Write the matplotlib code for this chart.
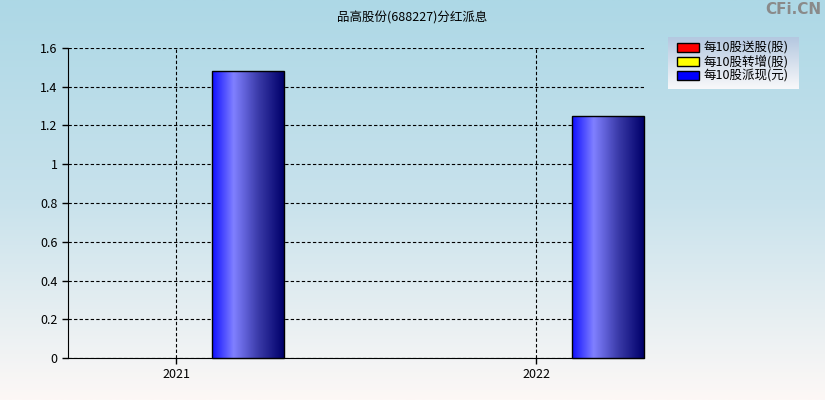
import numpy as np
import matplotlib.pyplot as plt
from matplotlib.colors import LinearSegmentedColormap
from matplotlib.patches import Rectangle

plt.rcParams['font.family'] = ['Noto Sans CJK SC', 'DejaVu Sans']

years = ['2021', '2022']
song_gu = [0, 0]
zhuan_zeng = [0, 0]
pai_xian = [1.48, 1.25]
series_names = ['每10股送股(股)', '每10股转增(股)', '每10股派现(元)']
series_colors = ['#ff0000', '#ffff00', '#0000ff']
title = '品高股份(688227)分红派息'

fig = plt.figure(figsize=(8.25, 4), dpi=100)

# background gradient over the whole figure
bg = fig.add_axes([0, 0, 1, 1], zorder=-10)
bg_cmap = LinearSegmentedColormap.from_list('bg', ['#add8e6', '#c8e2ec', '#fdf8f6'])
bg.imshow(np.linspace(0, 1, 256).reshape(-1, 1), cmap=bg_cmap, aspect='auto', extent=[0, 1, 0, 1])
bg.axis('off')

ax = fig.add_axes([68 / 825, 42 / 400, 576 / 825, 310 / 400])
ax.set_facecolor('none')

x = np.arange(len(years))
w = 0.2
bar_cmap = LinearSegmentedColormap.from_list(
    'bar', [(0, '#1010ff'), (0.3, '#8080ff'), (0.65, '#3a3aa8'), (1, '#00006a')])
grad = np.linspace(0, 1, 128).reshape(1, -1)

for i, (vals, col) in enumerate(zip([song_gu, zhuan_zeng, pai_xian], series_colors)):
    bars = ax.bar(x + (i - 1) * w, vals, width=w, align='center', color=col,
                  linewidth=0, zorder=3)
    for b in bars:
        if b.get_height() <= 0:
            continue
        x0, y0 = b.get_x(), b.get_y()
        if i == 2:
            im = ax.imshow(grad, cmap=bar_cmap, aspect='auto', zorder=3.5,
                           extent=[x0, x0 + b.get_width(), y0, y0 + b.get_height()])
            im.set_clip_path(b)
        ax.add_patch(Rectangle((x0, y0), b.get_width(), b.get_height(), fill=False,
                               edgecolor='black', linewidth=1, zorder=4, clip_on=False))

ax.set_xlim(-0.3, 1.3)
ax.set_ylim(0, 1.6)
ax.set_xticks(x)
ax.set_xticklabels(years)
ax.set_yticks(np.arange(0, 1.61, 0.2))
ax.set_yticklabels(['0', '0.2', '0.4', '0.6', '0.8', '1', '1.2', '1.4', '1.6'])
ax.tick_params(labelsize=9, length=4, width=1, color='black')
ax.grid(True, linestyle=(0, (3, 2)), color='black', linewidth=0.8, zorder=1)
ax.set_axisbelow(True)
for s in ['top', 'right']:
    ax.spines[s].set_visible(False)

fig.text(0.5, 1 - 18 / 400, title, ha='center', va='center', fontsize=9)
fig.text(0.995, 1 - 10 / 400, 'CFi.CN', ha='right', va='center', fontsize=11,
         color='#8a8a8a', fontweight='bold', family='DejaVu Sans')

# legend box
lg = fig.add_axes([668 / 825, 1 - 89 / 400, 131 / 825, 52 / 400])
lg_cmap = LinearSegmentedColormap.from_list('lg', ['#b4c8e0', '#f8f8fa'])
lg.imshow(np.linspace(0, 1, 64).reshape(-1, 1), cmap=lg_cmap, aspect='auto', extent=[0, 1, 0, 1])
lg.set_xlim(0, 1)
lg.set_ylim(0, 1)
lg.axis('off')
for k, (name, col) in enumerate(zip(series_names, series_colors)):
    yc = 0.8 - k * 0.27
    lg.add_patch(Rectangle((0.07, yc - 0.09), 0.17, 0.18, facecolor=col,
                           edgecolor='black', linewidth=1))
    lg.text(0.27, yc, name, va='center', ha='left', fontsize=9)

fig.savefig('out.png', dpi=100)
